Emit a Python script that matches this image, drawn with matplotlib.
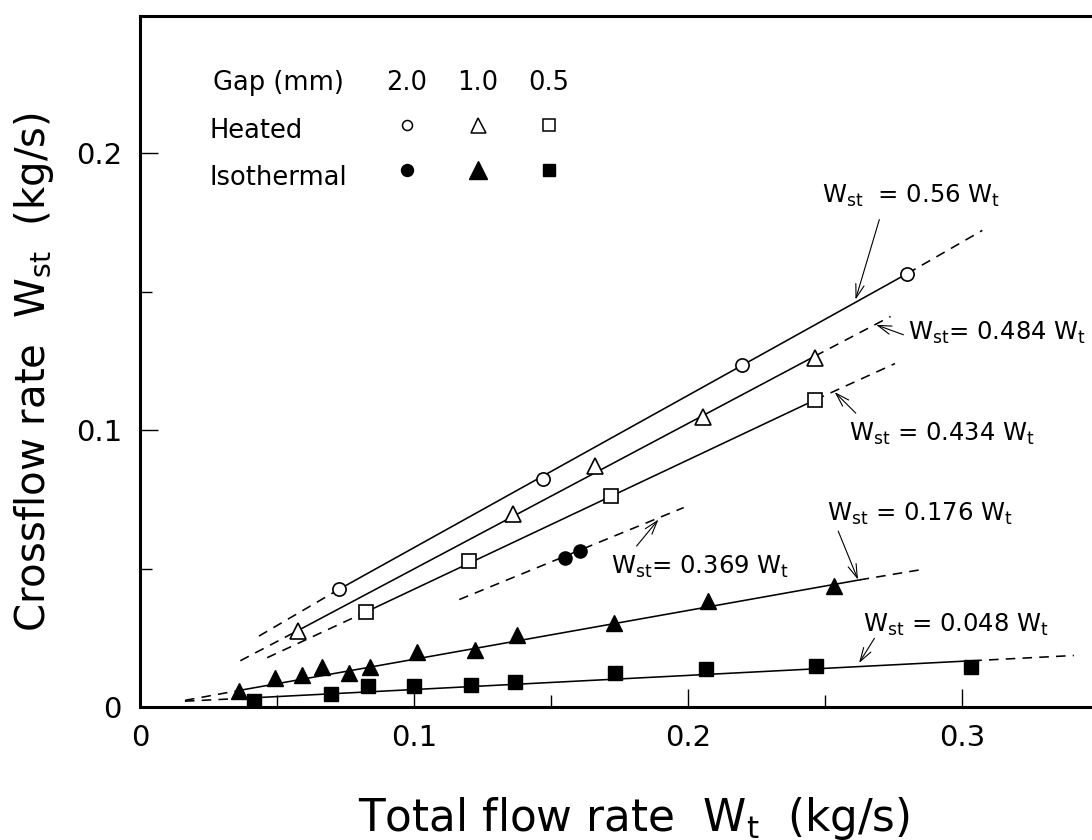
import matplotlib
matplotlib.use("Agg")
import matplotlib.pyplot as plt
from matplotlib.lines import Line2D

plt.rcParams["font.family"] = ["DejaVu Sans"]
plt.rcParams["mathtext.fontset"] = "dejavusans"
plt.rcParams["mathtext.default"] = "rm"

# ---------------- data ----------------
# Heated, gap 2.0 mm (open circles)
heated_20_x = [0.0728, 0.147, 0.2195, 0.280]
heated_20_y = [0.0426, 0.0825, 0.1234, 0.1565]
# Heated, gap 1.0 mm (open triangles)
heated_10_x = [0.0578, 0.136, 0.1662, 0.2053, 0.2463]
heated_10_y = [0.0275, 0.0697, 0.0871, 0.1048, 0.1261]
# Heated, gap 0.5 mm (open squares)
heated_05_x = [0.0824, 0.120, 0.1718, 0.2464]
heated_05_y = [0.0343, 0.0526, 0.0762, 0.1109]
# Isothermal, gap 2.0 mm (filled circles)
iso_20_x = [0.155, 0.1607]
iso_20_y = [0.0539, 0.0565]
# Isothermal, gap 1.0 mm (filled triangles)
iso_10_x = [0.0363, 0.0494, 0.059, 0.0664, 0.0764, 0.0838, 0.1009, 0.1221,
            0.1377, 0.173, 0.2072, 0.2534]
iso_10_y = [0.0056, 0.0103, 0.0117, 0.0146, 0.0123, 0.0144, 0.0200, 0.0207,
            0.0260, 0.0305, 0.0383, 0.0437]
# Isothermal, gap 0.5 mm (filled squares)
iso_05_x = [0.0416, 0.0696, 0.0831, 0.1001, 0.1208, 0.1369, 0.1734, 0.2065,
            0.2468, 0.3033]
iso_05_y = [0.0022, 0.0046, 0.0076, 0.0077, 0.0081, 0.0089, 0.0121, 0.0137,
            0.0148, 0.0146]

# Correlation lines: solid part and dashed extensions (x pairs, y pairs)
fit_20_solid_x, fit_20_solid_y = [0.0728, 0.280], [0.0426, 0.1565]
fit_20_lo_x, fit_20_lo_y = [0.0434, 0.0728], [0.0256, 0.0426]
fit_20_hi_x, fit_20_hi_y = [0.280, 0.3074], [0.1565, 0.1721]

fit_10_solid_x, fit_10_solid_y = [0.0578, 0.2463], [0.0277, 0.1267]
fit_10_lo_x, fit_10_lo_y = [0.0366, 0.0578], [0.0167, 0.0277]
fit_10_hi_x, fit_10_hi_y = [0.2463, 0.2739], [0.1267, 0.1410]

fit_05_solid_x, fit_05_solid_y = [0.0824, 0.2464], [0.0343, 0.1109]
fit_05_lo_x, fit_05_lo_y = [0.0464, 0.0824], [0.0178, 0.0343]
fit_05_hi_x, fit_05_hi_y = [0.2464, 0.2755], [0.1109, 0.1240]

fit_iso20_x, fit_iso20_y = [0.1165, 0.1984], [0.0388, 0.0720]

fit_iso10_solid_x, fit_iso10_solid_y = [0.0363, 0.2626], [0.0060, 0.0459]
fit_iso10_lo_x, fit_iso10_lo_y = [0.0164, 0.0363], [0.0024, 0.0060]
fit_iso10_hi_x, fit_iso10_hi_y = [0.2626, 0.2845], [0.0459, 0.0495]

fit_iso05_solid_x, fit_iso05_solid_y = [0.039, 0.3037], [0.0032, 0.0167]
fit_iso05_lo_x, fit_iso05_lo_y = [0.0164, 0.039], [0.0021, 0.0032]
fit_iso05_hi_x, fit_iso05_hi_y = [0.3037, 0.3408], [0.0167, 0.0186]

# Equation labels
eq_labels = [r"$W_{st}$  = 0.56 $W_t$", r"$W_{st}$= 0.484 $W_t$",
             r"$W_{st}$ = 0.434 $W_t$", r"$W_{st}$= 0.369 $W_t$",
             r"$W_{st}$ = 0.176 $W_t$", r"$W_{st}$ = 0.048 $W_t$"]

x_major = [0, 0.1, 0.2, 0.3]
x_major_labels = ["0", "0.1", "0.2", "0.3"]
x_minor = [0.05, 0.15, 0.25]
y_major = [0, 0.1, 0.2]
y_major_labels = ["0", "0.1", "0.2"]
y_minor = [0.05, 0.15]

gap_labels = ["2.0", "1.0", "0.5"]
row_labels = ["Heated", "Isothermal"]

# ---------------- layout ----------------
# label anchor (x, baseline y), arrow tail, arrow head  (data coords)
eq_text_pos = [(0.249, 0.182), (0.2804, 0.1326), (0.2588, 0.096),
               (0.172, 0.048), (0.2507, 0.0671), (0.2639, 0.0273)]
eq_tail = [(0.2698, 0.176), (0.2786, 0.1344), (0.2612, 0.1061),
           (0.1812, 0.0581), (0.2548, 0.0635), (0.268, 0.0248)]
eq_head = [(0.2611, 0.1471), (0.2686, 0.1380), (0.2535, 0.1137),
           (0.1892, 0.0677), (0.2620, 0.0460), (0.2624, 0.0159)]

W, H = 1092, 840
fig = plt.figure(figsize=(W / 100, H / 100), dpi=100)
ax = fig.add_axes([140 / W, 1 - 707 / H, 952 / W, 691 / H])
ax.set_xlim(0, 0.3474)
ax.set_ylim(0, 0.2495)

LW = 1.15
DASH = (0, (6, 4.5))
lk = dict(color="black", lw=LW, zorder=2)

for sx, sy in [(fit_20_solid_x, fit_20_solid_y), (fit_10_solid_x, fit_10_solid_y),
               (fit_05_solid_x, fit_05_solid_y), (fit_iso10_solid_x, fit_iso10_solid_y),
               (fit_iso05_solid_x, fit_iso05_solid_y)]:
    ax.plot(sx, sy, ls="-", **lk)
for dx, dy in [(fit_20_lo_x, fit_20_lo_y), (fit_20_hi_x, fit_20_hi_y),
               (fit_10_lo_x, fit_10_lo_y), (fit_10_hi_x, fit_10_hi_y),
               (fit_05_lo_x, fit_05_lo_y), (fit_05_hi_x, fit_05_hi_y),
               (fit_iso20_x, fit_iso20_y),
               (fit_iso10_lo_x, fit_iso10_lo_y), (fit_iso10_hi_x, fit_iso10_hi_y),
               (fit_iso05_lo_x, fit_iso05_lo_y), (fit_iso05_hi_x, fit_iso05_hi_y)]:
    ax.plot(dx, dy, ls=DASH, **lk)

mk_open = dict(ls="none", mfc="white", mec="black", mew=1.2, zorder=4)
mk_fill = dict(ls="none", mfc="black", mec="black", mew=1.0, zorder=4)
ax.plot(heated_20_x, heated_20_y, marker="o", ms=9.5, **mk_open)
ax.plot(heated_10_x, heated_10_y, marker="^", ms=11.5, **mk_open)
ax.plot(heated_05_x, heated_05_y, marker="s", ms=9.5, **mk_open)
ax.plot(iso_20_x, iso_20_y, marker="o", ms=9.5, **mk_fill)
ax.plot(iso_10_x, iso_10_y, marker="^", ms=11.5, **mk_fill)
ax.plot(iso_05_x, iso_05_y, marker="s", ms=9.5, **mk_fill)

for lab, (tx, ty), tail, head in zip(eq_labels, eq_text_pos, eq_tail, eq_head):
    ax.text(tx, ty, lab, fontsize=17.5, ha="left", va="baseline", zorder=5)
    ax.annotate("", xy=head, xytext=tail,
                arrowprops=dict(arrowstyle="->,head_length=0.7,head_width=0.22",
                                lw=0.8, color="black", shrinkA=0, shrinkB=0,
                                mutation_scale=14))

# axes styling
for s in ["left", "bottom", "top"]:
    ax.spines[s].set_linewidth(2.2)
ax.spines["right"].set_visible(False)
ax.set_xticks(x_major)
ax.set_xticklabels(x_major_labels)
ax.set_xticks(x_minor, minor=True)
ax.set_yticks(y_major)
ax.set_yticklabels(y_major_labels)
ax.set_yticks(y_minor, minor=True)
ax.tick_params(which="both", direction="in", top=False, right=False, width=1.0)
ax.tick_params(which="major", length=13, labelsize=21)
ax.tick_params(which="minor", length=8.5)
ax.tick_params(axis="x", which="major", pad=12)
ax.tick_params(axis="y", which="major", pad=13)

# axis titles
fig.text(358 / W, 1 - 831 / H, r"Total flow rate  $W_t$  (kg/s)", fontsize=31.5,
         ha="left", va="baseline")
fig.text(45 / W, 1 - 372 / H, r"Crossflow rate  $W_{st}$  (kg/s)", fontsize=29,
         rotation=90, rotation_mode="anchor", ha="center", va="baseline")

# key block (top left)
fs_key = 18.5
fig.text(213 / W, 1 - 90 / H, "Gap (mm)", fontsize=fs_key, ha="left", va="baseline")
col_x = [407, 478, 549]
for cx, g in zip(col_x, gap_labels):
    fig.text(cx / W, 1 - 90 / H, g, fontsize=fs_key, ha="center", va="baseline")
fig.text(210 / W, 1 - 138 / H, row_labels[0], fontsize=fs_key, ha="left", va="baseline")
fig.text(210 / W, 1 - 185 / H, row_labels[1], fontsize=fs_key, ha="left", va="baseline")
key_mk = [("o", 7.2, 8.6), ("^", 10.8, 13.0), ("s", 8.6, 8.6)]
for cx, (m, ms_open, ms_fill) in zip(col_x, key_mk):
    fig.add_artist(Line2D([cx / W], [1 - 125 / H], transform=fig.transFigure,
                          marker=m, ms=ms_open, mfc="white", mec="black", mew=1.1,
                          ls="none"))
    fig.add_artist(Line2D([cx / W], [1 - 170 / H], transform=fig.transFigure,
                          marker=m, ms=ms_fill, mfc="black", mec="black", mew=1.0,
                          ls="none"))

fig.savefig("out.png", dpi=100)
